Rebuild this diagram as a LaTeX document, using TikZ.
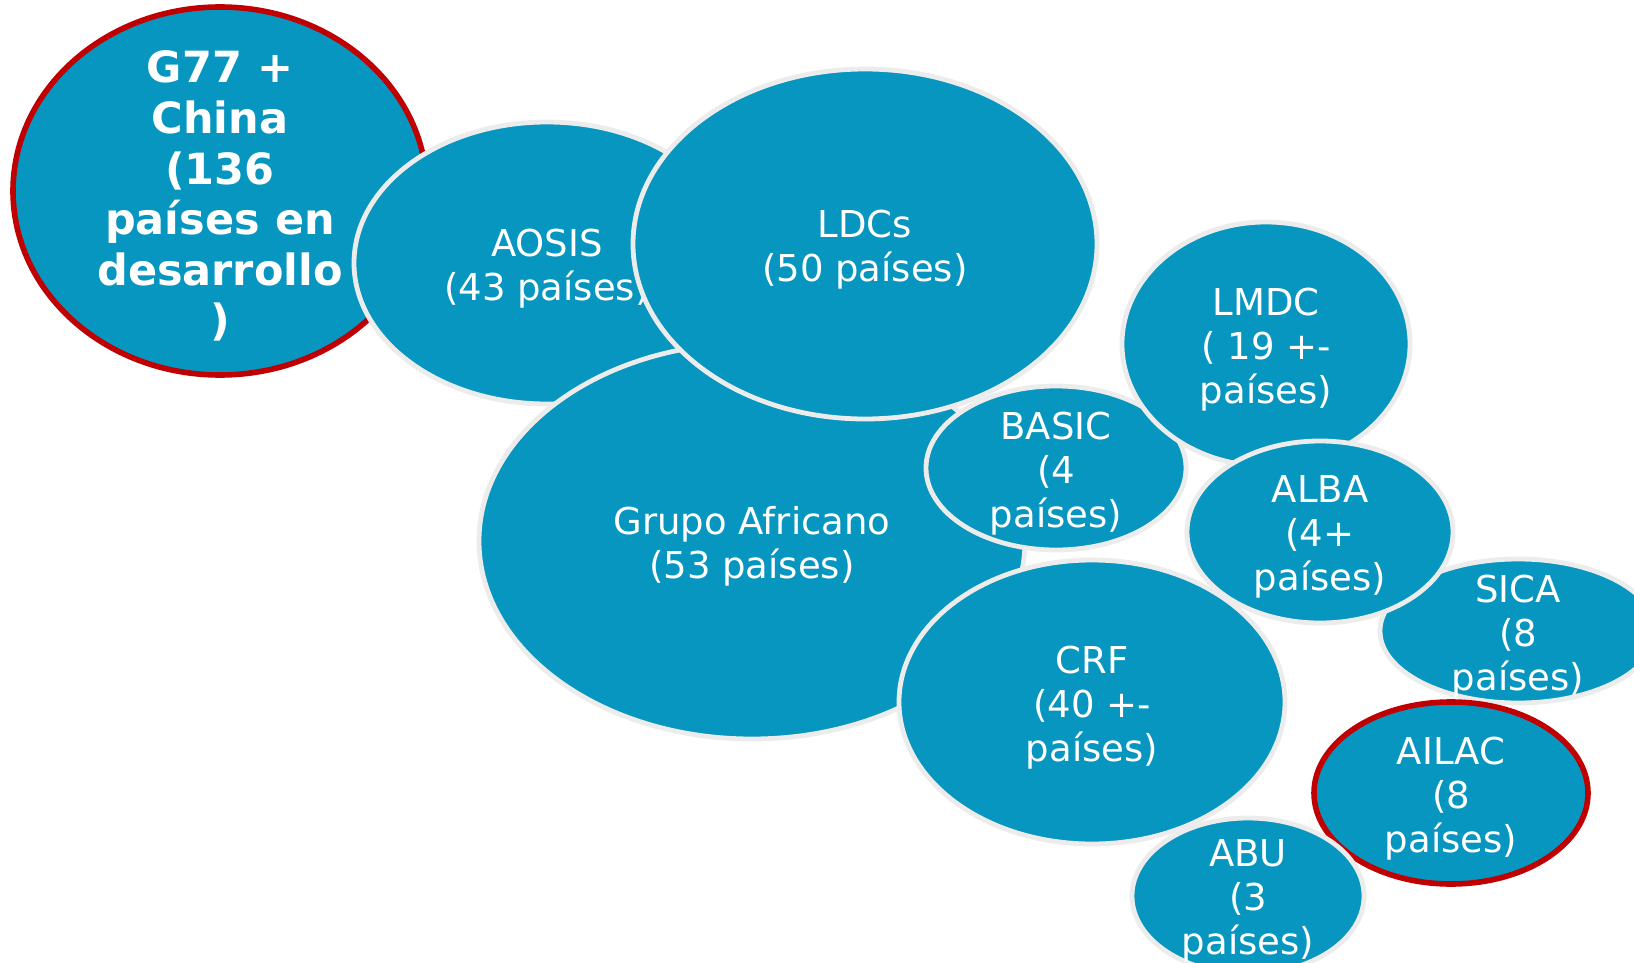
\documentclass[tikz,border=0pt]{standalone}
\usepackage{fontspec}
\setmainfont{DejaVu Sans}
\usetikzlibrary{shapes.geometric}
\definecolor{bubble}{RGB}{7,150,191}
\definecolor{rim}{RGB}{236,236,236}
\definecolor{redrim}{RGB}{192,0,0}
\tikzset{
  bub/.style={ellipse, fill=bubble, draw=rim, line width=2.4pt, inner sep=0pt},
  redbub/.style={bub, draw=redrim, line width=2.8pt},
  lbl/.style={text=white, align=center, inner sep=0pt, yshift=-2.6pt, font=\fontsize{18.5}{22}\selectfont},
  blbl/.style={text=white, align=center, inner sep=0pt, yshift=-2.6pt, font=\fontsize{21.5}{25.3}\selectfont\bfseries},
}
\newcommand{\bubble}[7]{% name, style, x, y, rx, ry, text
  \node[#2, minimum width=#5pt, minimum height=#6pt] (#1) at (#3,#4) {};
  \node[lbl] (#1-t) at (#1.center) {#7};
}
\begin{document}
\begin{tikzpicture}[x=0.5pt, y=-0.5pt]
\useasboundingbox (0,0) rectangle (1634,963);
\clip (0,0) rectangle (1634,963);
\fill[white] (0,0) rectangle (1634,963);
% G77
\node[redbub, minimum width=207pt, minimum height=184pt] (g77) at (220,191) {};
\node[blbl] (g77-t) at (g77.center) {G77 +\\China\\(136\\países en\\desarrollo\\)};
\bubble{aosis}{bub}{547}{263}{193}{141}{AOSIS\\(43 países)}
\bubble{afr}{bub}{752}{541}{273}{198}{Grupo Africano\\(53 países)}
\bubble{ldcs}{bub}{865}{244}{232}{175}{LDCs\\(50 países)}
\bubble{basic}{bub}{1056}{468}{130}{82}{BASIC\\(4\\países)}
\bubble{lmdc}{bub}{1266}{344}{144}{122}{LMDC\\( 19 +-\\países)}
\bubble{sica}{bub}{1518}{631}{138}{72}{SICA\\(8\\países)}
\bubble{alba}{bub}{1320}{532}{133}{91}{ALBA\\(4+\\países)}
\bubble{crf}{bub}{1092}{702}{193}{142}{CRF\\(40 +-\\países)}
\bubble{ailac}{redbub}{1451}{793}{137}{91}{AILAC\\(8\\países)}
\bubble{abu}{bub}{1248}{896}{116}{78}{ABU\\(3\\países)}
\end{tikzpicture}
\end{document}
